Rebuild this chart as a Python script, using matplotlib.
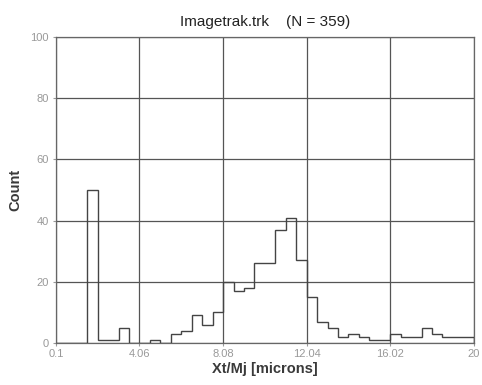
import numpy as np
import matplotlib
matplotlib.use('Agg')
import matplotlib.pyplot as plt

plt.rcParams['font.family'] = ['Liberation Sans', 'DejaVu Sans']

# histogram data (40 bins between 0.1 and 20 microns)
x_min = 0.1
x_max = 20.0
counts = [0, 0, 0, 50, 1, 1, 5, 0, 0, 1,
          0, 3, 4, 9, 6, 10, 20, 17, 18, 26,
          26, 37, 41, 27, 15, 7, 5, 2, 3, 2,
          1, 1, 3, 2, 2, 5, 3, 2, 2, 2]
xtick_vals = [0.1, 4.06, 8.08, 12.04, 16.02, 20.0]
xtick_labels = ['0.1', '4.06', '8.08', '12.04', '16.02', '20']
ytick_vals = [0, 20, 40, 60, 80, 100]

edges = np.linspace(x_min, x_max, len(counts) + 1)

fig = plt.figure(figsize=(4.82, 3.85), dpi=100)
ax = fig.add_axes([0.116, 0.109, 0.867, 0.795])

ax.stairs(counts, edges, baseline=0, color='#444444', linewidth=1.0, zorder=3)

ax.set_xlim(x_min, x_max)
ax.set_ylim(0, 100)
ax.set_xticks(xtick_vals)
ax.set_xticklabels(xtick_labels)
ax.set_yticks(ytick_vals)
ax.grid(True, color='#555555', linewidth=0.9)
ax.set_axisbelow(True)

for sp in ax.spines.values():
    sp.set_color('#666666')
    sp.set_linewidth(0.9)

ax.tick_params(axis='both', colors='#999999', labelsize=8, length=2.5, width=0.8)
ax.tick_params(axis='y', pad=2.5)
ax.tick_params(axis='x', pad=2)

ax.set_xlabel('Xt/Mj [microns]', fontsize=10.5, fontweight='bold',
              color='#3a3a3a', labelpad=2)
ax.set_ylabel('Count', fontsize=10.5, fontweight='bold',
              color='#3a3a3a', labelpad=6)
ax.set_title('Imagetrak.trk    (N = 359)', fontsize=11,
             color='#222222', pad=8)

fig.savefig('out.png', dpi=100)
